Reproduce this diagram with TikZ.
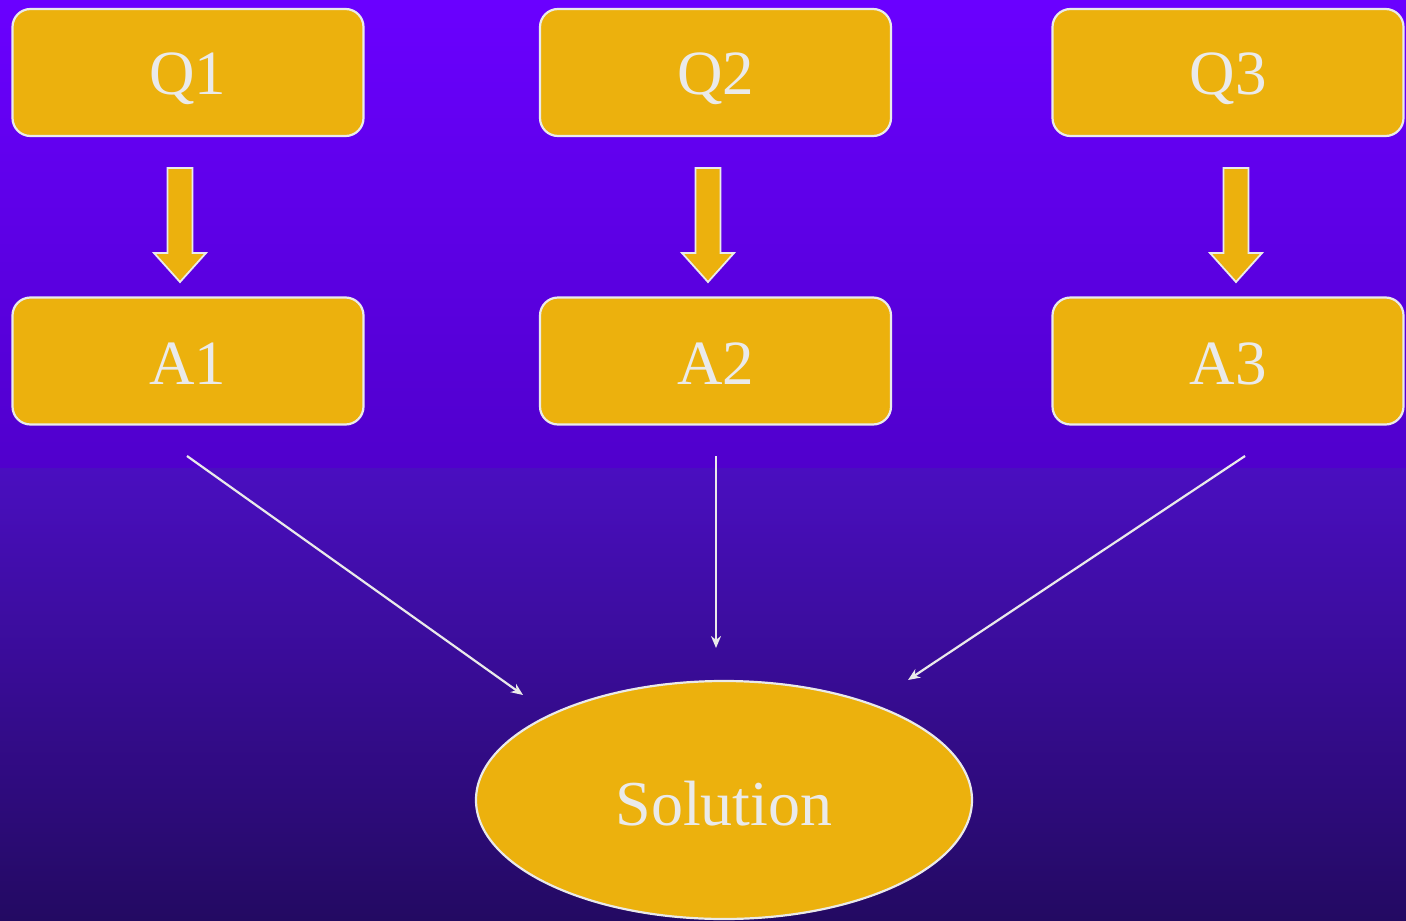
\documentclass[tikz,border=0pt]{standalone}
\usepackage{fontspec}
\setmainfont{Liberation Serif}
\usetikzlibrary{shapes.geometric,arrows.meta}
\definecolor{bgtop}{HTML}{6A00FF}
\definecolor{bgmid}{HTML}{5000CC}
\definecolor{bgmidb}{HTML}{4A0EC0}
\definecolor{bgbot}{HTML}{230A62}
\definecolor{gold}{HTML}{ECB10D}
\definecolor{txt}{HTML}{EAEAEA}
% shift a label down without changing its measured size
\newcommand{\lowered}[2]{\raisebox{-#1}[\height][\depth]{#2}}
\begin{document}
\begin{tikzpicture}[x=1pt,y=-1pt,
  box/.style={draw=txt,line width=2.2pt,fill=gold,rounded corners=18pt,
    minimum width=351pt,minimum height=127pt,inner sep=0pt,
    font=\fontsize{63}{63}\selectfont,text=txt},
  oval/.style={ellipse,draw=txt,line width=2.2pt,fill=gold,
    minimum width=496pt,minimum height=238pt,inner sep=0pt,
    font=\fontsize{64}{64}\selectfont,text=txt},
  blockarrow/.style={draw=txt,line width=1.8pt,fill=gold,line join=miter},
  link/.style={draw=txt,line width=2.2pt,-{Stealth[length=12pt,width=10pt]}}]
\useasboundingbox (0,0) rectangle (1406,921);
% background
\shade[top color=bgtop,bottom color=bgmid] (0,0) rectangle (1406,468);
\shade[top color=bgmidb,bottom color=bgbot] (0,468) rectangle (1406,921);
% question and answer boxes
\foreach \i/\x in {1/188,2/715.5,3/1228}{
  \node[box] (q\i) at (\x,72.5) {\lowered{6pt}{Q\i}};
  \node[box] (a\i) at (\x,361) {\lowered{3pt}{A\i}};
}
% block arrows between them
\foreach \c in {180,708,1236}{
  \draw[blockarrow] (\c-12.5,168) -- (\c+12.5,168) -- (\c+12.5,253) -- (\c+26,253)
    -- (\c,282) -- (\c-26,253) -- (\c-12.5,253) -- cycle;
}
\node[oval] (sol) at (724,800) {\lowered{4pt}{Solution}};
% connectors towards the solution
\coordinate (s1) at (187,456);
\coordinate (s2) at (716,456);
\coordinate (s3) at (1245,456);
\coordinate (e1) at (523,695);
\coordinate (e2) at (716,648);
\coordinate (e3) at (908,680);
\draw[link] (s1) -- (e1);
\draw[link] (s2) -- (e2);
\draw[link] (s3) -- (e3);
\end{tikzpicture}
\end{document}
